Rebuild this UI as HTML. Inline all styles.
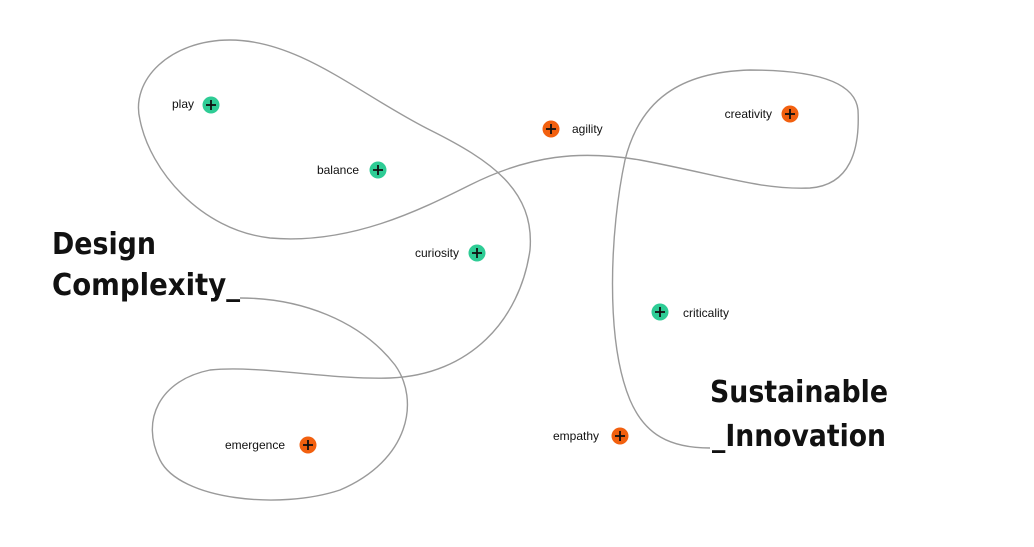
<!DOCTYPE html>
<html><head><meta charset="utf-8"><style>
html,body{margin:0;padding:0;background:#fff;}
svg{display:block}
.h{font-family:"DejaVu Sans","Liberation Sans",sans-serif;font-weight:bold;font-size:30px;fill:#111}
.l{font-family:"Liberation Sans",sans-serif;font-size:12px;fill:#111}
</style></head><body>
<svg width="1034" height="547" viewBox="0 0 1034 547" xmlns="http://www.w3.org/2000/svg">
<path d="M240,298 C300,298 360,320 395,365 C420,400 410,460 340,490 C280,510 180,500 160,460 C140,420 160,380 210,370 C260,365 330,380 390,378 C470,375 520,320 530,250 C535,190 490,160 430,130 C360,95 300,40 230,40 C170,40 130,80 140,120 C150,170 200,230 270,238 C350,245 420,210 470,185 C530,155 580,150 640,160 C720,175 760,190 810,188 C850,185 860,150 858,110 C855,80 810,70 750,70 C680,72 640,100 625,160 C610,230 605,340 630,400 C645,435 670,448 710,448" fill="none" stroke="#9a9a9a" stroke-width="1.4"/>
<text class="h" x="52" y="254" textLength="104" lengthAdjust="spacingAndGlyphs">Design</text>
<text class="h" x="52" y="295" textLength="188" lengthAdjust="spacingAndGlyphs">Complexity_</text>
<text class="h" x="710" y="402" textLength="178" lengthAdjust="spacingAndGlyphs">Sustainable</text>
<text class="h" x="712" y="446" textLength="174" lengthAdjust="spacingAndGlyphs">_Innovation</text>
<defs>
<g id="p"><line x1="-5" y1="0" x2="5" y2="0" stroke="#111" stroke-width="1.8"/><line x1="0" y1="-5" x2="0" y2="5" stroke="#111" stroke-width="1.8"/></g>
</defs>
<g>
<circle cx="211" cy="105" r="8.5" fill="#2ecc95"/><use href="#p" x="211" y="105"/>
<circle cx="378" cy="170" r="8.5" fill="#2ecc95"/><use href="#p" x="378" y="170"/>
<circle cx="477" cy="253" r="8.5" fill="#2ecc95"/><use href="#p" x="477" y="253"/>
<circle cx="660" cy="312" r="8.5" fill="#2ecc95"/><use href="#p" x="660" y="312"/>
<circle cx="551" cy="129" r="8.5" fill="#f2600f"/><use href="#p" x="551" y="129"/>
<circle cx="790" cy="114" r="8.5" fill="#f2600f"/><use href="#p" x="790" y="114"/>
<circle cx="620" cy="436" r="8.5" fill="#f2600f"/><use href="#p" x="620" y="436"/>
<circle cx="308" cy="445" r="8.5" fill="#f2600f"/><use href="#p" x="308" y="445"/>
</g>
<text class="l" x="194" y="108" text-anchor="end">play</text>
<text class="l" x="359" y="174" text-anchor="end">balance</text>
<text class="l" x="459" y="257" text-anchor="end">curiosity</text>
<text class="l" x="572" y="133">agility</text>
<text class="l" x="772" y="118" text-anchor="end">creativity</text>
<text class="l" x="683" y="317">criticality</text>
<text class="l" x="599" y="440" text-anchor="end">empathy</text>
<text class="l" x="285" y="449" text-anchor="end">emergence</text>
</svg>
</body></html>
